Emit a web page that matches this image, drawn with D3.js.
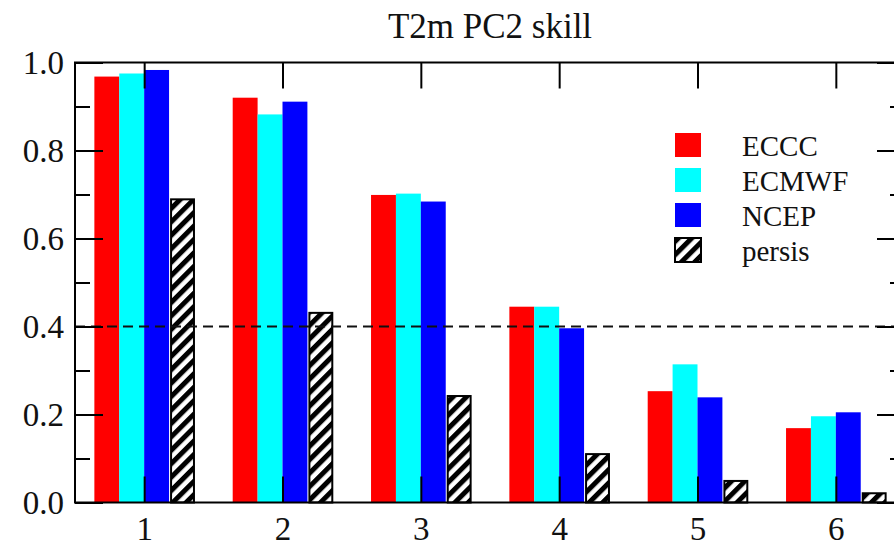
<!DOCTYPE html>
<html>
<head>
<meta charset="utf-8">
<script src="https://cdn.jsdelivr.net/npm/d3@7"></script>
<style>
  body { margin: 0; background: #fff; }
</style>
</head>
<body>
<div id="chart"></div>
<script>
const width = 894;
const height = 547;
const margin = { top: 62.5, bottom: 44.5, left: 75, right: -11 };
const serifFont = '"Liberation Serif", "Times New Roman", serif';

const leads = [1, 2, 3, 4, 5, 6];
const series = ["ECCC", "ECMWF", "NCEP", "persis"];
const eccc = [0.968, 0.920, 0.699, 0.445, 0.253, 0.169];
const ecmwf = [0.975, 0.882, 0.702, 0.445, 0.314, 0.196];
const ncep = [0.983, 0.911, 0.684, 0.396, 0.239, 0.205];
const persis = [0.689, 0.431, 0.242, 0.110, 0.049, 0.021];
const yMajor = [0, 0.2, 0.4, 0.6, 0.8, 1.0];
const yMinor = [0.1, 0.3, 0.5, 0.7, 0.9];
const refLine = 0.4;
const colors = ["#ff0000", "#00ffff", "#0000ff", "url(#hatch)"];
const barW = 0.18;

const svg = d3
  .select("#chart")
  .append("svg")
  .attr("width", width)
  .attr("height", height)
  .attr("font-family", serifFont);

// hatch pattern for persistence
const pat = svg
  .append("defs")
  .append("pattern")
  .attr("id", "hatch")
  .attr("patternUnits", "userSpaceOnUse")
  .attr("width", 9.5)
  .attr("height", 9.5)
  .attr("patternTransform", "rotate(45)");
pat.append("rect").attr("width", 9.5).attr("height", 9.5).attr("fill", "#fff");
pat
  .append("rect")
  .attr("x", 0)
  .attr("width", 5)
  .attr("height", 9.5)
  .attr("fill", "#000");

const x = d3
  .scaleLinear()
  .domain([0.5, 6.5])
  .range([margin.left, width - margin.right]);
const y = d3
  .scaleLinear()
  .domain([0, 1])
  .range([height - margin.bottom, margin.top]);

const values = [eccc, ecmwf, ncep, persis];
const rows = [];
series.forEach((s, si) => {
  leads.forEach((l, li) => {
    rows.push({ series: s, si: si, lead: l, value: values[si][li] });
  });
});

const bw = x(barW) - x(0);

// model bars
svg
  .append("g")
  .selectAll("rect")
  .data(rows.filter((d) => d.si < 3))
  .enter()
  .append("rect")
  .attr("x", (d) => x(d.lead + (d.si - 2) * barW))
  .attr("y", (d) => y(d.value))
  .attr("width", bw)
  .attr("height", (d) => y(0) - y(d.value))
  .attr("fill", (d) => colors[d.si]);

// persistence bars
svg
  .append("g")
  .selectAll("rect")
  .data(rows.filter((d) => d.si === 3))
  .enter()
  .append("rect")
  .attr("x", (d) => x(d.lead + barW) + 2)
  .attr("y", (d) => y(d.value))
  .attr("width", bw - 2)
  .attr("height", (d) => y(0) - y(d.value))
  .attr("fill", colors[3])
  .attr("stroke", "#000")
  .attr("stroke-width", 2);

// reference line
svg
  .append("line")
  .attr("x1", x(0.5))
  .attr("x2", x(6.5))
  .attr("y1", y(refLine))
  .attr("y2", y(refLine))
  .attr("stroke", "#111")
  .attr("stroke-width", 2)
  .attr("stroke-dasharray", "10,6");

// axes
function styleAxis(g) {
  g.attr("font-family", serifFont).attr("font-size", 33);
  g.select(".domain").remove();
  g.selectAll(".tick line").attr("stroke", "#000").attr("stroke-width", 2);
  g.selectAll(".tick text").attr("fill", "#111");
}

svg
  .append("g")
  .attr("transform", `translate(${x(0.5)},0)`)
  .call(
    d3.axisLeft(y).tickValues(yMajor).tickFormat(d3.format(".1f")).tickSize(-28).tickPadding(11)
  )
  .call(styleAxis);
svg
  .append("g")
  .attr("transform", `translate(${x(0.5)},0)`)
  .call(d3.axisLeft(y).tickValues(yMinor).tickFormat("").tickSize(-15))
  .call(styleAxis);
svg
  .append("g")
  .attr("transform", `translate(${x(6.5)},0)`)
  .call(d3.axisRight(y).tickValues(yMajor).tickFormat("").tickSize(-28))
  .call(styleAxis);
svg
  .append("g")
  .attr("transform", `translate(${x(6.5)},0)`)
  .call(d3.axisRight(y).tickValues(yMinor).tickFormat("").tickSize(-15))
  .call(styleAxis);
svg
  .append("g")
  .attr("transform", `translate(0,${y(0)})`)
  .call(d3.axisBottom(x).tickValues(leads).tickFormat(d3.format("d")).tickSize(-26).tickPadding(14))
  .call(styleAxis);
svg
  .append("g")
  .attr("transform", `translate(0,${y(1)})`)
  .call(d3.axisTop(x).tickValues(leads).tickFormat("").tickSize(-26))
  .call(styleAxis);

// frame
svg
  .append("rect")
  .attr("x", x(0.5))
  .attr("y", y(1))
  .attr("width", x(6.5) - x(0.5))
  .attr("height", y(0) - y(1))
  .attr("fill", "none")
  .attr("stroke", "#000")
  .attr("stroke-width", 2);

// title
svg
  .append("text")
  .attr("x", 490)
  .attr("y", 38)
  .attr("text-anchor", "middle")
  .attr("font-size", 35)
  .attr("fill", "#111")
  .text("T2m PC2 skill");

// legend
const legend = svg.append("g").attr("transform", "translate(675,133)");
const item = legend
  .selectAll("g")
  .data(series)
  .enter()
  .append("g")
  .attr("transform", (d, i) => `translate(0,${i * 35})`);
item
  .append("rect")
  .attr("width", 26)
  .attr("height", 24)
  .attr("fill", (d, i) => colors[i])
  .attr("stroke", (d, i) => (i === 3 ? "#000" : "none"))
  .attr("stroke-width", 2);
item
  .append("text")
  .attr("x", 67)
  .attr("y", 23)
  .attr("font-size", 29)
  .attr("fill", "#111")
  .text((d) => d);
</script>
</body>
</html>
